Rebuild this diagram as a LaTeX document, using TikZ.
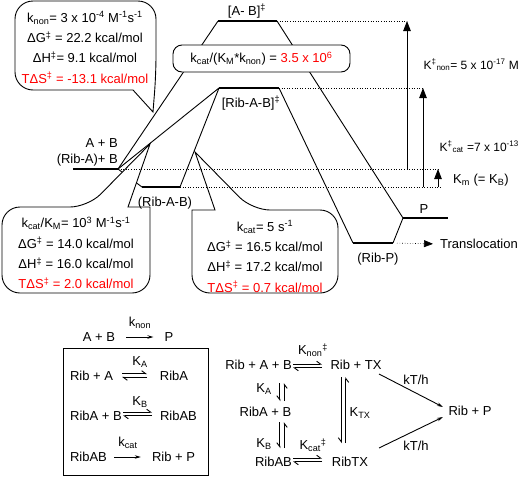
\documentclass[tikz,border=0pt]{standalone}
\usepackage{fontspec}
\setmainfont{Liberation Sans}
\usetikzlibrary{arrows.meta}
\newcommand{\sbs}[1]{\textsubscript{#1}}
\newcommand{\sps}[1]{\textsuperscript{#1}}
\newcommand{\eqh}[2]{%
  \draw[harpH] ([yshift=1.8pt]#1) -- ([yshift=1.8pt]#2);
  \draw[harpH] ([yshift=-1.8pt]#2) -- ([yshift=-1.8pt]#1);}
\newcommand{\eqv}[2]{%
  \draw[harpV] ([xshift=-2.2pt]#1) -- ([xshift=-2.2pt]#2);
  \draw[harpV] ([xshift=2.2pt]#2) -- ([xshift=2.2pt]#1);}
\begin{document}
\begin{tikzpicture}[x=1pt,y=-1pt,
  txt/.style={font=\fontsize{13}{15}\selectfont, inner sep=0pt},
  smalltxt/.style={font=\fontsize{12}{14}\selectfont, inner sep=0pt},
  level/.style={line width=2.3pt},
  conn/.style={line width=0.9pt},
  guide/.style={line width=0.6pt, dotted},
  bigarrow/.style={line width=0.9pt, -{Triangle[width=7.5pt,length=10pt]}},
  rxn/.style={line width=0.9pt, -{Stealth[length=6pt,width=3.5pt]}},
  harpH/.style={line width=0.9pt, -{Straight Barb[left,length=4pt,width=6pt]}},
  harpV/.style={line width=0.9pt, -{Straight Barb[right,length=4pt,width=6pt]}},
  callout/.style={line width=0.9pt, fill=white},
  calltxt/.style={txt, align=center, font=\fontsize{13}{20.3}\selectfont}
]
\useasboundingbox (0,0) rectangle (520,477);

% ---------- energy levels ----------
\coordinate (ABl) at (73,169);   \coordinate (ABr) at (118,169);
\coordinate (RABl) at (142,187); \coordinate (RABr) at (180,187);
\coordinate (TSl) at (218,21);   \coordinate (TSr) at (277,21);
\coordinate (RTSl) at (219,88);  \coordinate (RTSr) at (279,88);
\coordinate (RPl) at (353,243);  \coordinate (RPr) at (393,243);
\coordinate (Pl) at (403,218);   \coordinate (Pr) at (448,218);

\draw[conn] (ABr) -- (TSl);
\draw[conn] (TSr) -- (Pl);
\draw[conn] (ABr) -- (RTSl);
\draw[conn] (ABr) -- (RABl);
\draw[conn] (RABr) -- (RTSl);
\draw[conn] (RTSr) -- (RPl);
\draw[conn] (RPr) -- (Pl);

\draw[level] (ABl) -- (ABr);
\draw[level] (RABl) -- (RABr);
\draw[level] (TSl) -- (TSr);
\draw[level] (RTSl) -- (RTSr);
\draw[level] (RPl) -- (RPr);
\draw[level] (Pl) -- (Pr);

% ---------- callouts ----------
\draw[callout] (133,90) [rounded corners=18pt] -- (15,90) -- (15,1) -- (156,1) -- (156,74) [sharp corners] -- (153,112) -- cycle;
\node[calltxt] (knontxt) at (85,47.5) {k\sbs{non}= 3 x 10\sps{-4} M\sps{-1}s\sps{-1}\\
  ΔG\sps{‡} = 22.2 kcal/mol\\ ΔH\sps{‡}= 9.1 kcal/mol\\
  \textcolor{red}{TΔS\sps{‡} = -13.1 kcal/mol}};

\draw[callout] (2,250) [rounded corners=18pt] -- (2,207) -- (88,207) [sharp corners] -- (150,144) -- (128,207) -- (150,207) [rounded corners=18pt] -- (150,293) -- (2,293) -- cycle;
\node[calltxt] (kcatkmtxt) at (76,253) {k\sbs{cat}/K\sbs{M}= 10\sps{3} M\sps{-1}s\sps{-1}\\
  ΔG\sps{‡} = 14.0 kcal/mol\\ ΔH\sps{‡} = 16.0 kcal/mol\\
  \textcolor{red}{TΔS\sps{‡} = 2.0 kcal/mol}};

\draw[callout] (338,250) [rounded corners=18pt] -- (338,210) -- (252,210) [sharp corners] -- (195,152) -- (215,210) -- (192,210) [rounded corners=18pt] -- (192,293) -- (338,293) -- cycle;
\node[calltxt] (kcattxt) at (265,256.5) {k\sbs{cat}= 5 s\sps{-1}\\
  ΔG\sps{‡} = 16.5 kcal/mol\\ ΔH\sps{‡} = 17.2 kcal/mol\\
  \textcolor{red}{TΔS\sps{‡} = 0.7 kcal/mol}};

\node[txt, draw, callout, rounded corners=9pt, minimum width=177pt, minimum height=27pt] (ratio) at (261.5,58.5)
  {k\sbs{cat}/(K\sbs{M}*k\sbs{non}) = \textcolor{red}{3.5 x 10\sps{6}}};

% ---------- level labels ----------
\node[txt] (labTS) at (247,11) {[A- B]\sps{‡}};
\node[txt] (labRTS) at (251,103) {[Rib-A-B]\sps{‡}};
\node[txt, anchor=east] (labAB) at (118,143) {A + B};
\node[txt, anchor=east] (labRAB) at (118,160) {(Rib-A)+ B};
\node[txt] (labRABc) at (165,203) {(Rib-A-B)};
\node[txt] (labRP) at (378,259) {(Rib-P)};
\node[txt] (labP) at (424,209) {P};

% ---------- guides and arrows ----------
\coordinate (nonTop) at (407,21);  \coordinate (nonBot) at (407,169);
\coordinate (catTop) at (423,88);  \coordinate (catBot) at (423,187);
\coordinate (kmTop) at (438,169);  \coordinate (kmBot) at (438,187);
\coordinate (g1) at (440,169);     \coordinate (g2) at (442,187);

\draw[guide] (TSr) -- (nonTop);
\draw[guide] (RTSr) -- (catTop);
\draw[guide] (ABr) -- (g1);
\draw[guide] (RABr) -- (g2);

\draw[bigarrow] (nonBot) -- (nonTop);
\draw[bigarrow] (catBot) -- (catTop);
\draw[bigarrow] (kmBot) -- (kmTop);

\node[smalltxt, anchor=east] (Knon) at (519,65) {K\sps{‡}\sbs{non}= 5 x 10\sps{-17} M};
\node[smalltxt, anchor=east] (Kcat) at (519,147) {K\sps{‡}\sbs{cat} =7 x 10\sps{-13}};
\node[txt, anchor=west] (Km) at (453,180) {K\sbs{m} (= K\sbs{B})};

\node[txt, anchor=west] (transl) at (440,244) {Translocation};
\draw[guide, shorten <=4pt, shorten >=7pt, -{Triangle[width=7pt,length=9pt]}] (RPr) -- (transl.west);

% ---------- left scheme ----------
\node[txt] (ab) at (99,337) {A + B};
\node[txt] (p0) at (169,337) {P};
\draw[rxn, shorten <=11pt, shorten >=11pt] (ab) -- (p0);
\node[txt] (knonl) at (140,323) {k\sbs{non}};

\node[draw, line width=0.9pt, minimum width=145pt, minimum height=127pt, inner sep=0pt] (frame) at (135.5,412) {};

\node[txt] (r1a) at (91.5,376) {Rib + A};
\node[txt] (r1b) at (174,376) {RibA};
\coordinate (h1a) at (122,375.5); \coordinate (h1b) at (147,375.5);
\eqh{h1a}{h1b}
\node[txt] (KAl) at (140,362) {K\sbs{A}};

\node[txt] (r2a) at (96,416) {RibA + B};
\node[txt] (r2b) at (178.5,416) {RibAB};
\coordinate (h2a) at (123,414); \coordinate (h2b) at (152,414);
\eqh{h2a}{h2b}
\node[txt] (KBl) at (140,402) {K\sbs{B}};

\node[txt] (r3a) at (88.5,457) {RibAB};
\node[txt] (r3b) at (173.5,457) {Rib + P};
\draw[rxn, shorten <=7pt, shorten >=11pt] (r3a) -- (r3b);
\node[txt] (kcatl) at (128,443) {k\sbs{cat}};

% ---------- right scheme ----------
\node[txt] (s1) at (258.5,365) {Rib + A + B};
\node[txt] (s2) at (356,365) {Rib + TX};
\node[txt] (s3) at (265.5,412) {RibA + B};
\node[txt] (s4) at (273.5,462) {RibAB};
\node[txt] (s5) at (350,462) {RibTX};
\node[txt] (s6) at (470,411) {Rib + P};

\coordinate (q1a) at (293,366); \coordinate (q1b) at (322,366);
\eqh{q1a}{q1b}
\node[txt] (Knonr) at (313,350) {K\sbs{non}\sps{‡}};

\coordinate (q2a) at (293,460); \coordinate (q2b) at (322,460);
\eqh{q2a}{q2b}
\node[txt] (Kcatr) at (313,445) {K\sbs{cat}\sps{‡}};

\coordinate (v1a) at (282,383); \coordinate (v1b) at (282,401);
\eqv{v1a}{v1b}
\node[txt] (KAr) at (264,389) {K\sbs{A}};

\coordinate (v2a) at (282,422); \coordinate (v2b) at (282,448);
\eqv{v2a}{v2b}
\node[txt] (KBr) at (264,444) {K\sbs{B}};

\coordinate (v3a) at (343.5,377); \coordinate (v3b) at (343.5,443);
\eqv{v3a}{v3b}
\node[txt] (KTX) at (360,413) {K\sbs{TX}};

\coordinate (t1a) at (379,374); \coordinate (t1b) at (443,407);
\coordinate (t2a) at (379,448); \coordinate (t2b) at (443,417);
\draw[rxn] (t1a) -- (t1b);
\draw[rxn] (t2a) -- (t2b);
\node[txt] (kt1) at (416,380) {kT/h};
\node[txt] (kt2) at (416,446) {kT/h};
\end{tikzpicture}
\end{document}
